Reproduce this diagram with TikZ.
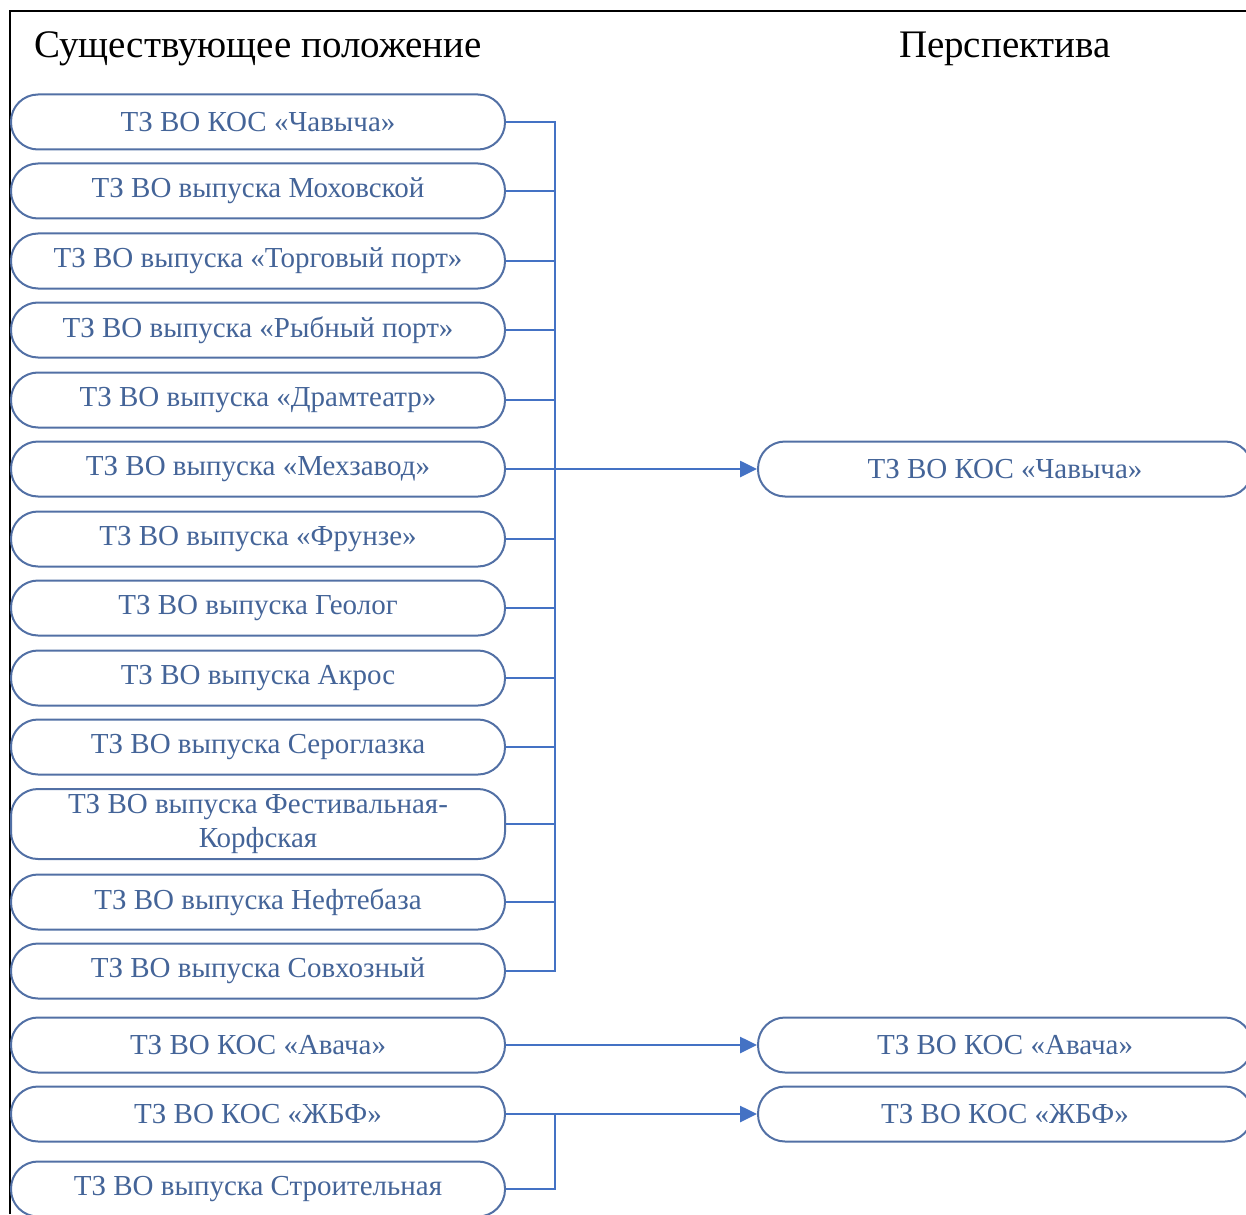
\documentclass[tikz,border=0pt]{standalone}
\usepackage{fontspec}
\setmainfont{Liberation Serif}
\usetikzlibrary{arrows.meta}
\definecolor{txtblue}{RGB}{68,100,152}
\definecolor{edgeblue}{RGB}{82,112,165}
\definecolor{lineblue}{RGB}{68,114,196}

\begin{document}
\begin{tikzpicture}[x=0.5pt,y=-0.5pt,
    box/.style={draw=edgeblue,line width=1pt,rounded corners=13.5pt,
      minimum width=247pt,minimum height=27.5pt,inner sep=0pt,
      text=txtblue,align=center,font=\fontsize{14.5}{17}\selectfont},
    link/.style={lineblue,line width=1.3pt},
    arr/.style={link,-{Triangle[length=8.5pt,width=8pt]}},
    head/.style={anchor=base,font=\fontsize{19.5}{23}\selectfont}]
    \useasboundingbox (0,0) rectangle (1246,1214);
    \draw[line width=1pt] (10,1214) -- (10,11) -- (1246,11);

    \node[head] (hnow) at (258,58) {Существующее положение};
    \node[head] (hfut) at (1005,58) {Перспектива};

    \node[box] (l1) at (258,122) {ТЗ ВО КОС «Чавыча»};
    \node[box] (l2) at (258,191) {ТЗ ВО выпуска Моховской};
    \node[box] (l3) at (258,261) {ТЗ ВО выпуска «Торговый порт»};
    \node[box] (l4) at (258,330) {ТЗ ВО выпуска «Рыбный порт»};
    \node[box] (l5) at (258,400) {ТЗ ВО выпуска «Драмтеатр»};
    \node[box] (l6) at (258,469) {ТЗ ВО выпуска «Мехзавод»};
    \node[box] (l7) at (258,539) {ТЗ ВО выпуска «Фрунзе»};
    \node[box] (l8) at (258,608) {ТЗ ВО выпуска Геолог};
    \node[box] (l9) at (258,678) {ТЗ ВО выпуска Акрос};
    \node[box] (l10) at (258,747) {ТЗ ВО выпуска Сероглазка};
    \node[box,minimum height=35pt] (l11) at (258,824) {ТЗ ВО выпуска Фестивальная-\\Корфская};
    \node[box] (l12) at (258,902) {ТЗ ВО выпуска Нефтебаза};
    \node[box] (l13) at (258,971) {ТЗ ВО выпуска Совхозный};
    \node[box] (l14) at (258,1045) {ТЗ ВО КОС «Авача»};
    \node[box] (l15) at (258,1114) {ТЗ ВО КОС «ЖБФ»};
    \node[box] (l16) at (258,1189) {ТЗ ВО выпуска Строительная};

    \node[box] (rchav) at (1005,469) {ТЗ ВО КОС «Чавыча»};
    \node[box] (raval) at (1005,1045) {ТЗ ВО КОС «Авача»};
    \node[box] (rzhbf) at (1005,1114) {ТЗ ВО КОС «ЖБФ»};

    % collector
    \coordinate (bus) at (555,0);
    \draw[link] (l1.east) -- (l1.east -| bus) -- (l13.east -| bus) -- (l13.east);
    \draw[link] (l2.east) -- (l2.east -| bus);
    \draw[link] (l3.east) -- (l3.east -| bus);
    \draw[link] (l4.east) -- (l4.east -| bus);
    \draw[link] (l5.east) -- (l5.east -| bus);
    \draw[link] (l7.east) -- (l7.east -| bus);
    \draw[link] (l8.east) -- (l8.east -| bus);
    \draw[link] (l9.east) -- (l9.east -| bus);
    \draw[link] (l10.east) -- (l10.east -| bus);
    \draw[link] (l11.east) -- (l11.east -| bus);
    \draw[link] (l12.east) -- (l12.east -| bus);

    \draw[arr] (l6.east) -- (rchav.west);
    \draw[arr] (l14.east) -- (raval.west);
    \draw[arr] (l15.east) -- (rzhbf.west);
    \draw[link] (l16.east) -| (l15.east -| bus);
\end{tikzpicture}
\end{document}
